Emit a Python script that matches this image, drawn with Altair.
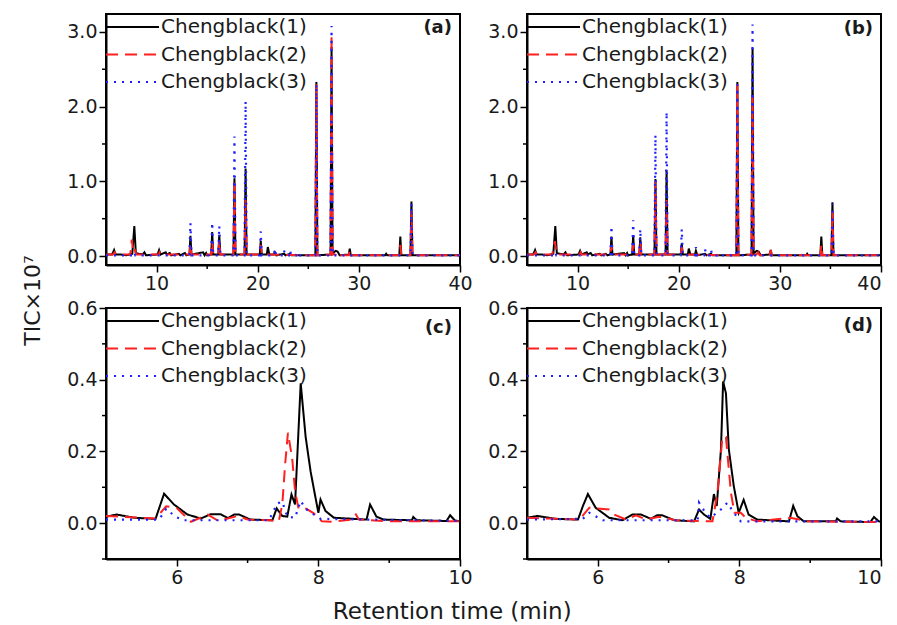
import altair as alt
import pandas as pd

SERIES = ["Chengblack(1)", "Chengblack(2)", "Chengblack(3)"]
COLORS = ["#000000", "#ff2020", "#2020ff"]
DASHES = [[1, 0], [12, 7], [2, 6]]
WIDTHS = [2.0, 2.0, 2.2]
PANEL_LABELS = ["(a)", "(b)", "(c)", "(d)"]

# ---------------- panel (a): full chromatogram ----------------
a1_t = [5.0, 5.6, 5.8, 5.95, 6.5, 7.0, 7.6, 7.8, 7.95, 8.6, 8.8, 8.95,
        10.1, 10.25, 10.4, 10.9, 11.0, 11.3, 11.45, 12.2, 12.35, 12.8, 12.95,
        13.25, 13.35, 13.45, 14.6, 14.75, 14.9, 15.0, 15.4, 15.5, 15.6,
        16.1, 16.2, 16.3, 17.6, 17.7, 17.8, 18.7, 18.8, 18.9,
        20.2, 20.3, 20.4, 20.9, 21.0, 21.15, 21.6, 21.7, 21.85,
        22.6, 22.75, 23.2, 23.35, 23.9, 25.7, 25.8, 25.9,
        27.2, 27.3, 27.4, 27.7, 27.9, 28.1, 29.0, 29.1, 29.2,
        32.6, 32.7, 32.8, 34.0, 34.1, 34.2, 35.1, 35.2, 35.3, 40.0]
a1_v = [0.02, 0.02, 0.08, 0.02, 0.02, 0.01, 0.03, 0.40, 0.04, 0.02, 0.05, 0.01,
        0.02, 0.08, 0.02, 0.05, 0.02, 0.04, 0.01, 0.03, 0.01, 0.04, 0.01,
        0.02, 0.27, 0.02, 0.05, 0.01, 0.04, 0.01, 0.02, 0.32, 0.02,
        0.02, 0.28, 0.02, 0.02, 1.04, 0.02, 0.02, 1.17, 0.02,
        0.02, 0.20, 0.02, 0.02, 0.12, 0.02, 0.02, 0.05, 0.01,
        0.03, 0.01, 0.03, 0.01, 0.01, 0.01, 2.33, 0.01,
        0.02, 2.80, 0.03, 0.07, 0.06, 0.01, 0.02, 0.10, 0.01,
        0.01, 0.03, 0.01, 0.01, 0.26, 0.01, 0.01, 0.73, 0.01, 0.01]
a2_t = [5.0, 5.7, 5.85, 6.0, 7.4, 7.55, 7.7, 7.85, 8.0, 10.2, 10.3, 10.4,
        13.25, 13.35, 13.45, 15.4, 15.5, 15.6, 16.1, 16.2, 16.3,
        17.6, 17.7, 17.8, 18.7, 18.8, 18.9, 20.2, 20.3, 20.4,
        25.7, 25.8, 25.9, 27.2, 27.3, 27.4, 27.7, 27.85, 28.0,
        29.0, 29.1, 29.2, 34.0, 34.1, 34.2, 35.1, 35.2, 35.3, 40.0]
a2_v = [0.02, 0.02, 0.05, 0.02, 0.02, 0.22, 0.05, 0.08, 0.02, 0.02, 0.05, 0.02,
        0.02, 0.15, 0.02, 0.02, 0.20, 0.02, 0.02, 0.20, 0.02,
        0.02, 1.00, 0.02, 0.02, 0.75, 0.02, 0.02, 0.15, 0.02,
        0.01, 2.30, 0.01, 0.02, 2.97, 0.02, 0.02, 0.05, 0.01,
        0.01, 0.08, 0.01, 0.01, 0.15, 0.01, 0.01, 0.60, 0.01, 0.01]
a3_t = [5.0, 7.7, 7.8, 7.9, 13.25, 13.35, 13.45, 15.4, 15.5, 15.6,
        16.1, 16.2, 16.3, 17.6, 17.7, 17.8, 18.7, 18.8, 18.9,
        20.2, 20.3, 20.4, 21.6, 21.7, 21.8, 22.5, 22.6, 22.7,
        23.1, 23.2, 23.3, 23.8, 23.9, 24.0, 25.7, 25.8, 25.9,
        27.2, 27.3, 27.4, 35.1, 35.2, 35.3, 40.0]
a3_v = [0.01, 0.01, 0.05, 0.01, 0.01, 0.44, 0.01, 0.01, 0.45, 0.01,
        0.01, 0.40, 0.01, 0.01, 1.60, 0.01, 0.01, 2.07, 0.01,
        0.01, 0.33, 0.01, 0.01, 0.10, 0.01, 0.01, 0.08, 0.01,
        0.01, 0.08, 0.01, 0.01, 0.05, 0.01, 0.01, 2.30, 0.01,
        0.01, 3.08, 0.01, 0.01, 0.70, 0.01, 0.01]

# ---------------- panel (b): full chromatogram ----------------
b1_t = a1_t
b1_v = [0.02, 0.02, 0.08, 0.02, 0.02, 0.01, 0.03, 0.40, 0.04, 0.02, 0.05, 0.01,
        0.02, 0.07, 0.02, 0.05, 0.02, 0.04, 0.01, 0.03, 0.01, 0.03, 0.01,
        0.02, 0.26, 0.02, 0.04, 0.01, 0.04, 0.01, 0.02, 0.28, 0.02,
        0.02, 0.25, 0.02, 0.02, 1.03, 0.02, 0.02, 1.15, 0.02,
        0.02, 0.17, 0.02, 0.02, 0.10, 0.02, 0.02, 0.07, 0.01,
        0.03, 0.01, 0.03, 0.01, 0.01, 0.01, 2.33, 0.01,
        0.02, 2.78, 0.03, 0.07, 0.06, 0.01, 0.02, 0.08, 0.01,
        0.01, 0.03, 0.01, 0.01, 0.26, 0.01, 0.01, 0.72, 0.01, 0.01]
b2_t = [5.0, 5.7, 5.85, 6.0, 7.5, 7.75, 7.9, 8.0, 10.2, 10.3, 10.4,
        13.25, 13.35, 13.45, 15.4, 15.5, 15.6, 16.1, 16.2, 16.3,
        17.6, 17.7, 17.8, 18.7, 18.8, 18.9, 20.2, 20.3, 20.4,
        25.7, 25.8, 25.9, 27.2, 27.3, 27.4, 27.7, 27.85, 28.0,
        29.0, 29.1, 29.2, 34.0, 34.1, 34.2, 35.1, 35.2, 35.3, 40.0]
b2_v = [0.02, 0.02, 0.05, 0.02, 0.02, 0.20, 0.06, 0.02, 0.02, 0.05, 0.02,
        0.02, 0.15, 0.02, 0.02, 0.15, 0.02, 0.02, 0.20, 0.02,
        0.02, 1.00, 0.02, 0.02, 0.75, 0.02, 0.02, 0.12, 0.02,
        0.01, 2.30, 0.01, 0.02, 2.15, 0.02, 0.02, 0.05, 0.01,
        0.01, 0.08, 0.01, 0.01, 0.15, 0.01, 0.01, 0.60, 0.01, 0.01]
b3_t = a3_t
b3_v = [0.01, 0.01, 0.05, 0.01, 0.01, 0.40, 0.01, 0.01, 0.48, 0.01,
        0.01, 0.36, 0.01, 0.01, 1.62, 0.01, 0.01, 1.93, 0.01,
        0.01, 0.36, 0.01, 0.01, 0.12, 0.01, 0.01, 0.10, 0.01,
        0.01, 0.08, 0.01, 0.01, 0.03, 0.01, 0.01, 2.30, 0.01,
        0.01, 3.10, 0.01, 0.01, 0.70, 0.01, 0.01]

# ---------------- panel (c): zoom 5-10 min ----------------
c1_t = [5.0, 5.15, 5.4, 5.7, 5.82, 5.96, 6.15, 6.34, 6.48, 6.62, 6.72, 6.81, 6.88,
        7.04, 7.35, 7.41, 7.49, 7.56, 7.62, 7.67, 7.75, 7.82, 7.89, 7.96, 8.0,
        8.03, 8.1, 8.22, 8.68, 8.73, 8.82, 8.92, 9.32, 9.34, 9.39, 9.81, 9.86, 9.93, 10.0]
c1_v = [0.018, 0.024, 0.015, 0.012, 0.082, 0.052, 0.024, 0.013, 0.025, 0.025, 0.014, 0.024, 0.024,
        0.010, 0.008, 0.041, 0.020, 0.018, 0.080, 0.052, 0.390, 0.240, 0.144, 0.070, 0.029,
        0.066, 0.034, 0.015, 0.010, 0.052, 0.018, 0.010, 0.008, 0.017, 0.008, 0.006, 0.022, 0.007, 0.005]
c2_t = [5.0, 5.7, 5.85, 6.0, 6.15, 6.2, 6.44, 6.58, 6.72, 6.86, 7.0, 7.32, 7.44, 7.49,
        7.53, 7.57, 7.63, 7.67, 7.72, 7.83, 7.93, 8.05, 8.2, 8.48, 8.53, 8.57, 9.0, 10.0]
c2_v = [0.020, 0.013, 0.047, 0.042, 0.013, 0.004, 0.024, 0.007, 0.013, 0.020, 0.010, 0.008, 0.005, 0.052,
        0.164, 0.252, 0.180, 0.090, 0.040, 0.040, 0.028, 0.005, 0.004, 0.010, 0.024, 0.010, 0.005, 0.005]
c3_t = [5.0, 5.75, 5.85, 5.98, 6.1, 7.3, 7.42, 7.49, 7.56, 7.67, 7.75, 7.82, 7.89, 8.03,
        9.3, 9.34, 9.38, 10.0]
c3_v = [0.010, 0.010, 0.040, 0.018, 0.008, 0.008, 0.055, 0.060, 0.018, 0.015, 0.062, 0.040, 0.030, 0.012,
        0.008, 0.012, 0.008, 0.006]

# ---------------- panel (d): zoom 5-10 min ----------------
d1_t = [5.0, 5.15, 5.4, 5.72, 5.79, 5.86, 5.97, 6.16, 6.35, 6.49, 6.61, 6.75, 6.84, 6.91,
        7.08, 7.36, 7.43, 7.5, 7.59, 7.64, 7.68, 7.74, 7.77, 7.81, 7.85, 7.92, 7.99,
        8.06, 8.13, 8.25, 8.7, 8.76, 8.82, 8.91, 9.36, 9.38, 9.43, 9.85, 9.9, 9.97, 10.0]
d1_v = [0.015, 0.020, 0.012, 0.010, 0.048, 0.081, 0.043, 0.015, 0.008, 0.024, 0.024, 0.012, 0.022, 0.022,
        0.008, 0.005, 0.038, 0.024, 0.012, 0.081, 0.048, 0.207, 0.395, 0.362, 0.207, 0.104, 0.029,
        0.065, 0.024, 0.010, 0.005, 0.048, 0.019, 0.005, 0.005, 0.013, 0.005, 0.003, 0.017, 0.005, 0.004]
d2_t = [5.0, 5.74, 5.88, 6.16, 6.23, 6.4, 6.54, 6.68, 6.87, 7.1, 7.55, 7.62, 7.69, 7.76,
        7.81, 7.88, 7.93, 8.02, 8.09, 8.25, 8.72, 8.96, 10.0]
d2_v = [0.015, 0.010, 0.043, 0.038, 0.024, 0.010, 0.022, 0.010, 0.018, 0.008, 0.005, 0.005, 0.085, 0.240,
        0.240, 0.085, 0.029, 0.029, 0.015, 0.005, 0.015, 0.005, 0.003]
d3_t = [5.0, 5.79, 5.88, 6.07, 7.41, 7.43, 7.52, 7.59, 7.74, 7.83, 7.92, 8.02, 10.0]
d3_v = [0.010, 0.012, 0.029, 0.008, 0.008, 0.057, 0.029, 0.015, 0.038, 0.057, 0.029, 0.005, 0.005]

# ---------------- axes ----------------
FULL_X_DOMAIN = [5, 40]
FULL_Y_DOMAIN = [-0.12, 3.24]
FULL_X_TICKS = [10, 20, 30, 40]
FULL_Y_TICKS = [0, 1, 2, 3]
FULL_X_MINOR = [15, 25, 35]
FULL_Y_MINOR = [0.5, 1.5, 2.5]

ZOOM_X_DOMAIN = [5, 10]
ZOOM_Y_DOMAIN = [-0.1, 0.6]
ZOOM_X_TICKS = [6, 8, 10]
ZOOM_Y_TICKS = [0, 0.2, 0.4, 0.6]
ZOOM_X_MINOR = [7, 9]
ZOOM_Y_MINOR = [-0.1, 0.1, 0.3, 0.5]

W, H = 354, 251
FONT = "DejaVu Sans"
TXT = "#1a1a1a"
LEG_Y0, LEG_DY = 13, 27.5


def panel(series, xdom, ydom, xticks, yticks, xminor, yminor, label, label_y, flush):
    xs = alt.Scale(domain=xdom, nice=False, zero=False)
    ys = alt.Scale(domain=ydom, nice=False, zero=False)
    xaxis = alt.Axis(values=xticks, format="d", title=None, labelFlush=flush, grid=False)
    yaxis = alt.Axis(values=yticks, format=".1f", title=None, labelFlush=False, grid=False)
    layers = []
    for (t, v), col, dash, sw in zip(series, COLORS, DASHES, WIDTHS):
        df = pd.DataFrame({"t": t, "v": v})
        layers.append(
            alt.Chart(df).mark_line(color=col, strokeDash=dash, strokeWidth=sw, clip=True).encode(
                x=alt.X("t:Q", scale=xs, axis=xaxis),
                y=alt.Y("v:Q", scale=ys, axis=yaxis),
            )
        )
    xm = alt.Chart(pd.DataFrame({"t": xminor})).mark_rule(color="black", strokeWidth=1.5).encode(
        x=alt.X("t:Q", scale=xs, axis=xaxis), y=alt.value(H), y2=alt.value(H + 4))
    ym = alt.Chart(pd.DataFrame({"v": yminor})).mark_rule(color="black", strokeWidth=1.5).encode(
        y=alt.Y("v:Q", scale=ys, axis=yaxis), x=alt.value(0), x2=alt.value(-4))
    lab = alt.Chart(pd.DataFrame({"lab": [label]})).mark_text(
        font=FONT, fontSize=18, fontWeight="bold", align="right", baseline="middle", color=TXT
    ).encode(x=alt.value(W - 8), y=alt.value(label_y), text="lab:N")

    leg = []
    for i, (name, col, dash) in enumerate(zip(SERIES, COLORS, DASHES)):
        ldf = pd.DataFrame({"series": [name]})
        yv = LEG_Y0 + LEG_DY * i
        leg.append(alt.Chart(ldf).mark_rule(strokeWidth=2, color=col, strokeDash=dash).encode(
            x=alt.value(0), x2=alt.value(53), y=alt.value(yv)))
        leg.append(alt.Chart(ldf).mark_text(
            font=FONT, fontSize=20, align="left", baseline="middle", color=TXT
        ).encode(x=alt.value(55), y=alt.value(yv), text="series:N"))
    return alt.layer(*layers, xm, ym, lab, *leg).properties(width=W, height=H)


pa = panel([(a1_t, a1_v), (a2_t, a2_v), (a3_t, a3_v)], FULL_X_DOMAIN, FULL_Y_DOMAIN,
           FULL_X_TICKS, FULL_Y_TICKS, FULL_X_MINOR, FULL_Y_MINOR, PANEL_LABELS[0], 14, False)
pb = panel([(b1_t, b1_v), (b2_t, b2_v), (b3_t, b3_v)], FULL_X_DOMAIN, FULL_Y_DOMAIN,
           FULL_X_TICKS, FULL_Y_TICKS, FULL_X_MINOR, FULL_Y_MINOR, PANEL_LABELS[1], 15, True)
pc = panel([(c1_t, c1_v), (c2_t, c2_v), (c3_t, c3_v)], ZOOM_X_DOMAIN, ZOOM_Y_DOMAIN,
           ZOOM_X_TICKS, ZOOM_Y_TICKS, ZOOM_X_MINOR, ZOOM_Y_MINOR, PANEL_LABELS[2], 20, False)
pd_ = panel([(d1_t, d1_v), (d2_t, d2_v), (d3_t, d3_v)], ZOOM_X_DOMAIN, ZOOM_Y_DOMAIN,
            ZOOM_X_TICKS, ZOOM_Y_TICKS, ZOOM_X_MINOR, ZOOM_Y_MINOR, PANEL_LABELS[3], 18, True)

grid = alt.concat(pa, pb, pc, pd_, columns=2, spacing={"row": 43, "column": 67},
                  bounds="flush").properties(
    title=alt.TitleParams("TIC×10⁷", orient="left", anchor="middle", font=FONT, fontSize=22,
                          fontWeight="normal", color=TXT, offset=21)
)
chart = alt.vconcat(grid).properties(
    title=alt.TitleParams("Retention time (min)", orient="bottom", anchor="middle", font=FONT,
                          fontSize=23, fontWeight="normal", color=TXT, offset=13),
    background="white",
    padding={"left": 13, "top": 5, "right": 2, "bottom": 0},
).configure_view(stroke="black", strokeWidth=2).configure_axis(
    labelFont=FONT, labelFontSize=19, labelColor=TXT, tickColor="black", domainColor="black",
    tickSize=7, tickWidth=1.5, domainWidth=2, grid=False, labelPadding=2
)

chart.save("out.html", embed_options={"renderer": "svg", "actions": False})
